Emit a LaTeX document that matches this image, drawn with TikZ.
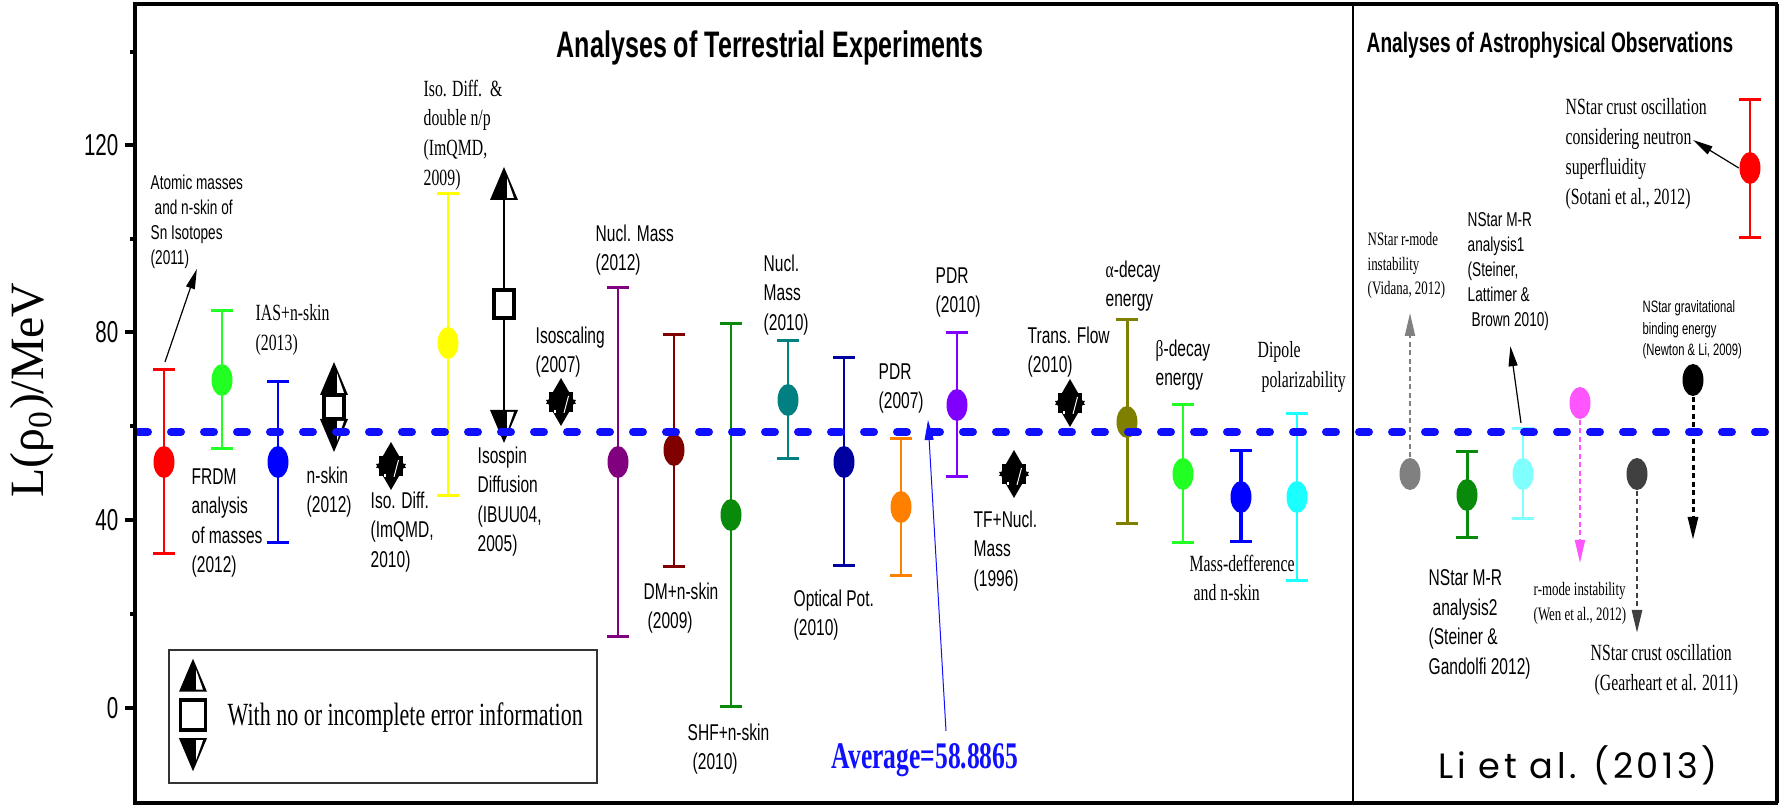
\documentclass[tikz,border=0pt]{standalone}
\usepackage{fontspec}
\usepackage{tikz}
\usetikzlibrary{arrows.meta, positioning, shapes.geometric, calc}
\newfontfamily\lsf[FakeStretch=0.68]{Liberation Sans}
\newfontfamily\lrm[FakeStretch=0.68]{Liberation Serif}
\newfontfamily\lrmwide{Liberation Serif}
\newfontfamily\lgeo[LetterSpace=10]{Poppins}
\definecolor{PtRed}{HTML}{FF0000}
\definecolor{PtLime}{HTML}{22FF22}
\definecolor{PtBlue}{HTML}{0000FF}
\definecolor{PtYellow}{HTML}{FFFF00}
\definecolor{PtPurple}{HTML}{800080}
\definecolor{PtMaroon}{HTML}{800000}
\definecolor{PtGreen}{HTML}{0A8A0A}
\definecolor{PtTeal}{HTML}{008080}
\definecolor{PtNavy}{HTML}{0000A0}
\definecolor{PtOrange}{HTML}{FF8000}
\definecolor{PtViolet}{HTML}{8000FF}
\definecolor{PtOlive}{HTML}{808000}
\definecolor{PtCyan}{HTML}{1AFFFF}
\definecolor{PtIce}{HTML}{80FFFF}
\definecolor{PtGray}{HTML}{808080}
\definecolor{PtMagenta}{HTML}{FF55FF}
\definecolor{PtSlate}{HTML}{404040}
\definecolor{AvgBlue}{HTML}{1010FF}

\begin{document}
\begin{tikzpicture}[x=0.1mm, y=-0.1mm,
    datapt/.style={ellipse, fill=#1, minimum width=2.1mm, minimum height=3.2mm, inner sep=0pt},
    ebar/.style={draw=#1, line width=0.22mm,
      {Bar[width=2.2mm, line width=0.3mm]}-{Bar[width=2.2mm, line width=0.3mm]}},
    lsfb/.style={font=\lsf\fontsize{6.5}{8.4}\selectfont, align=left, anchor=north west, inner sep=0pt},
    lsfs/.style={lsfb, font=\lsf\fontsize{5.7}{7.1}\selectfont},
    lsft/.style={lsfb, font=\lsf\fontsize{4.7}{6.1}\selectfont},
    lrmb/.style={lsfb, font=\lrm\fontsize{6.6}{8.5}\selectfont},
    lrms/.style={lsfb, font=\lrm\fontsize{5.4}{6.9}\selectfont},
    ticklbl/.style={font=\lsf\fontsize{8.6}{10}\selectfont, anchor=east, inner sep=0pt},
    note/.style={-{Triangle[length=2mm, width=0.9mm]}, line width=0.12mm},
    hint/.style={-{Triangle[length=2.3mm, width=1mm]}, line width=0.25mm, dash pattern=on 0.5mm off 0.35mm},
    uptri/.pic={\fill (0,0) -- (14,33) -- (-14,33) -- cycle;
      \fill[white] (3,11) -- (10,31) -- (3,31) -- cycle;},
    dntri/.pic={\fill (0,0) -- (14,-33) -- (-14,-33) -- cycle;
      \fill[white] (3,-11) -- (10,-31) -- (3,-31) -- cycle;},
    noinfo/.pic={\pic at (0,-45) {uptri};
      \draw[fill=white, line width=0.35mm] (-10,-12) rectangle (10,12);
      \pic at (0,45) {dntri};},
    nstar/.pic={\fill (0,-24) -- (15,2) -- (-15,2) -- cycle;
      \fill (0,24) -- (15,-2) -- (-15,-2) -- cycle;
      \fill (-12,-10) rectangle (12,10);
      \fill[white] (2.5,11) -- (7,-6) -- (8,-6) -- (3.5,11) -- cycle;
      \fill[white] (-7,8) rectangle (-5.5,11);}
  ]
    \useasboundingbox (0,0) rectangle (1787,808);

    % Titles
    \node[font=\lsf\bfseries\fontsize{10.5}{12}\selectfont] (ttlTerr) at (770,48)
      {Analyses of Terrestrial Experiments};
    \node[font=\lsf\bfseries\fontsize{8}{10}\selectfont] (ttlAstro) at (1550,45)
      {Analyses of Astrophysical Observations};

    % Axis label and ticks
    \node[rotate=90, font=\lrmwide\fontsize{13.6}{16}\selectfont] (ylab) at (32,390)
      {L(ρ\textsubscript{0})/MeV};
    \foreach \y in {145,332,520,708} \draw[line width=0.35mm] (125,\y) -- (135,\y);
    \foreach \y in {52,239,426,614} \draw[line width=0.35mm] (130,\y) -- (135,\y);
    \node[ticklbl] (t120) at (119,145) {120};
    \node[ticklbl] (t80) at (119,332) {80};
    \node[ticklbl] (t40) at (119,520) {40};
    \node[ticklbl] (t0) at (119,708) {0};

    % Error bars
    \draw[ebar=PtRed]    (164,368) -- (164,555);
    \draw[ebar=PtLime]   (222,309) -- (222,450);
    \draw[ebar=PtBlue]   (278,380) -- (278,544);
    \draw[ebar=PtYellow] (448,192) -- (448,497);
    \draw[ebar=PtPurple] (618,286) -- (618,638);
    \draw[ebar=PtMaroon] (674,333) -- (674,568);
    \draw[ebar=PtGreen]  (731,322) -- (731,708);
    \draw[ebar=PtTeal]   (788,339) -- (788,460);
    \draw[ebar=PtNavy]   (844,356) -- (844,567);
    \draw[ebar=PtOrange] (901,437) -- (901,577);
    \draw[ebar=PtViolet] (957,331) -- (957,478);
    \draw[ebar=PtOlive, line width=0.3mm] (1127,318) -- (1127,525);
    \draw[ebar=PtLime]   (1183,403) -- (1183,544);
    \draw[ebar=PtBlue, line width=0.35mm] (1241,449) -- (1241,543);
    \draw[ebar=PtCyan]   (1297,412) -- (1297,582);
    \draw[ebar=PtGreen, line width=0.3mm] (1467,450) -- (1467,539);
    \draw[ebar=PtIce]    (1523,427) -- (1523,520);
    \draw[ebar=PtRed]    (1750,98) -- (1750,239);

    % Data points
    \node[datapt=PtRed]     (sn)     at (164,462) {};
    \node[datapt=PtLime]    (frdm)   at (222,380) {};
    \node[datapt=PtBlue]    (ias)    at (278,462) {};
    \node[datapt=PtYellow]  (imq09)  at (448,343) {};
    \node[datapt=PtPurple]  (nm12)   at (618,462) {};
    \node[datapt=PtMaroon]  (dm)     at (674,450) {};
    \node[datapt=PtGreen]   (shf)    at (731,515) {};
    \node[datapt=PtTeal]    (nm10)   at (788,400) {};
    \node[datapt=PtNavy]    (opt)    at (844,462) {};
    \node[datapt=PtOrange]  (pdr07)  at (901,507) {};
    \node[datapt=PtViolet]  (pdr10)  at (957,405) {};
    \node[datapt=PtOlive]   (alpha)  at (1127,422) {};
    \node[datapt=PtLime]    (beta)   at (1183,474) {};
    \node[datapt=PtBlue]    (massd)  at (1241,497) {};
    \node[datapt=PtCyan]    (dip)    at (1297,497) {};
    \node[datapt=PtGray]    (vid)    at (1410,474) {};
    \node[datapt=PtGreen]   (mr2)    at (1467,495) {};
    \node[datapt=PtIce]     (mr1)    at (1523,474) {};
    \node[datapt=PtMagenta] (wen)    at (1580,403) {};
    \node[datapt=PtSlate]   (gear)   at (1637,474) {};
    \node[datapt=black]     (newt)   at (1693,380) {};
    \node[datapt=PtRed]     (sot)    at (1750,168) {};

    % No or incomplete error information
    \pic at (334,407) {noinfo};
    \draw[line width=0.15mm] (504,200) -- (504,410);
    \pic at (504,167) {uptri};
    \draw[fill=white, line width=0.35mm] (494,290) rectangle (514,318);
    \pic at (504,443) {dntri};
    \pic at (391,466) {nstar};
    \pic at (561,402) {nstar};
    \pic at (1014,474) {nstar};
    \pic at (1070,403) {nstar};

    % Labels, terrestrial
    \node[lsfs] (snL) at (150,174) {Atomic masses\\\hspace*{0.4mm}and n-skin of\\Sn Isotopes\\(2011)};
    \node[lsfb] (frdmL) at (191,468) {FRDM\\analysis\\of masses\\(2012)};
    \node[lrmb] (iasL) at (255,304) {IAS+n-skin\\(2013)};
    \node[lsfb] (nskinL) at (306,466) {n-skin\\(2012)};
    \node[lsfb] (imq10L) at (370,491) {Iso. Diff.\\(ImQMD,\\2010)};
    \node[lrmb] (imq09L) at (423,79) {Iso. Diff.\ \ \&\\double n/p\\(ImQMD,\\2009)};
    \node[lsfb] (ibuuL) at (477,446) {Isospin\\Diffusion\\(IBUU04,\\2005)};
    \node[lsfb] (isoscL) at (535,326) {Isoscaling\\(2007)};
    \node[lsfb] (nm12L) at (595,224) {Nucl. Mass\\(2012)};
    \node[lsfb] (dmL) at (643,582) {DM+n-skin\\\hspace*{0.4mm}(2009)};
    \node[lsfb] (shfL) at (687,723) {SHF+n-skin\\\hspace*{0.5mm}(2010)};
    \node[lsfb] (nm10L) at (763,254) {Nucl.\\Mass\\(2010)};
    \node[lsfb] (optL) at (793,589) {Optical Pot.\\(2010)};
    \node[lsfb] (pdr07L) at (878,363) {PDR\\(2007)};
    \node[lsfb] (pdr10L) at (935,267) {PDR\\(2010)};
    \node[lsfb] (tfL) at (973,510) {TF+Nucl.\\Mass\\(1996)};
    \node[lsfb] (flowL) at (1027,326) {Trans. Flow\\(2010)};
    \node[lsfb] (alphaL) at (1105,260) {{\lrm α}-decay\\energy};
    \node[lsfb] (betaL) at (1155,339) {{\lrm β}-decay\\energy};
    \node[lrmb] (massdL) at (1189,554) {Mass-defference\\\hspace*{0.4mm}and n-skin};
    \node[lrmb] (dipL) at (1257,341) {Dipole\\\hspace*{0.4mm}polarizability};

    % Labels, astrophysical
    \node[lrms] (vidL) at (1367,232) {NStar r-mode\\instability\\(Vidana, 2012)};
    \node[lsfs] (mr1L) at (1467,212) {NStar M-R\\analysis1\\(Steiner,\\Lattimer \&\\\hspace*{0.4mm}Brown 2010)};
    \node[lrmb] (sotL) at (1565,98) {NStar crust oscillation\\considering neutron\\superfluidity\\(Sotani et al., 2012)};
    \node[lsft] (newtL) at (1642,300) {NStar gravitational\\binding energy\\(Newton \& Li, 2009)};
    \node[lsfb] (mr2L) at (1428,569) {NStar M-R\\\hspace*{0.4mm}analysis2\\(Steiner \&\\Gandolfi 2012)};
    \node[lrms] (wenL) at (1533,582) {r-mode instability\\(Wen et al., 2012)};
    \node[lrmb] (gearL) at (1590,644) {NStar crust oscillation\\\hspace*{0.4mm}(Gearheart et al. 2011)};

    % Pointers
    \coordinate (snTop) at (165,362);
    \coordinate (mr1Top) at (1521,423);
    \coordinate (sotTip) at (1693,140);
    \coordinate (vidTip) at (1410,313);
    \coordinate (wenTip) at (1580,563);
    \coordinate (gearTip) at (1637,633);
    \coordinate (newtTip) at (1693,540);
    \draw[note] (snTop) -- (snL.south);
    \draw[note, shorten >=1.5mm] (mr1Top) -- (mr1L.south);
    \draw[note] (sot.west) -- (sotTip);
    \draw[hint, draw=PtGray, line width=0.2mm] (vid.north) -- (vidTip);
    \draw[hint, draw=PtMagenta, line width=0.2mm] (wen.south) -- (wenTip);
    \draw[hint, draw=PtSlate] (gear.south) -- (gearTip);
    \draw[hint, draw=black, line width=0.3mm] (newt.south) -- (newtTip);

    % Average
    \coordinate (avgL) at (138,432);
    \coordinate (avgR) at (1771,432);
    \draw[AvgBlue, line width=0.8mm, dash pattern=on 1.0mm off 2.3mm, line cap=round] (avgL) -- (avgR);
    \node[font=\lrm\bfseries\fontsize{10.7}{12}\selectfont, text=AvgBlue] (avg) at (925,760)
      {Average=58.8865};
    \coordinate (avgTip) at (928,420);
    \draw[note, draw=AvgBlue, line width=0.1mm] ($(avg.north)+(21,0)$) -- (avgTip);

    % Legend
    \node[draw=black!80, line width=0.15mm, minimum width=42.8mm, minimum height=13.3mm,
          inner sep=0pt] (legBox) at (383,716.5) {};
    \pic[scale=1.25] at (193,715) {noinfo};
    \node[font=\lrm\fontsize{9.2}{11}\selectfont, anchor=west, inner sep=0pt] (legTxt) at (227,718)
      {With no or incomplete error information};

    % Citation
    \node[font=\lgeo\fontsize{10}{12}\selectfont] (cite) at (1578,765) {Li et al. (2013)};

    % Frame
    \draw[line width=0.2mm] (1353,4) -- (1353,803);
    \draw[line width=0.35mm] (1777,4) -- (1777,803);
    \draw[line width=0.45mm] (135,4) -- (1778,4);
    \draw[line width=0.45mm] (135,803) -- (1778,803);
    \draw[line width=0.45mm] (135,2) -- (135,805);
\end{tikzpicture}
\end{document}
